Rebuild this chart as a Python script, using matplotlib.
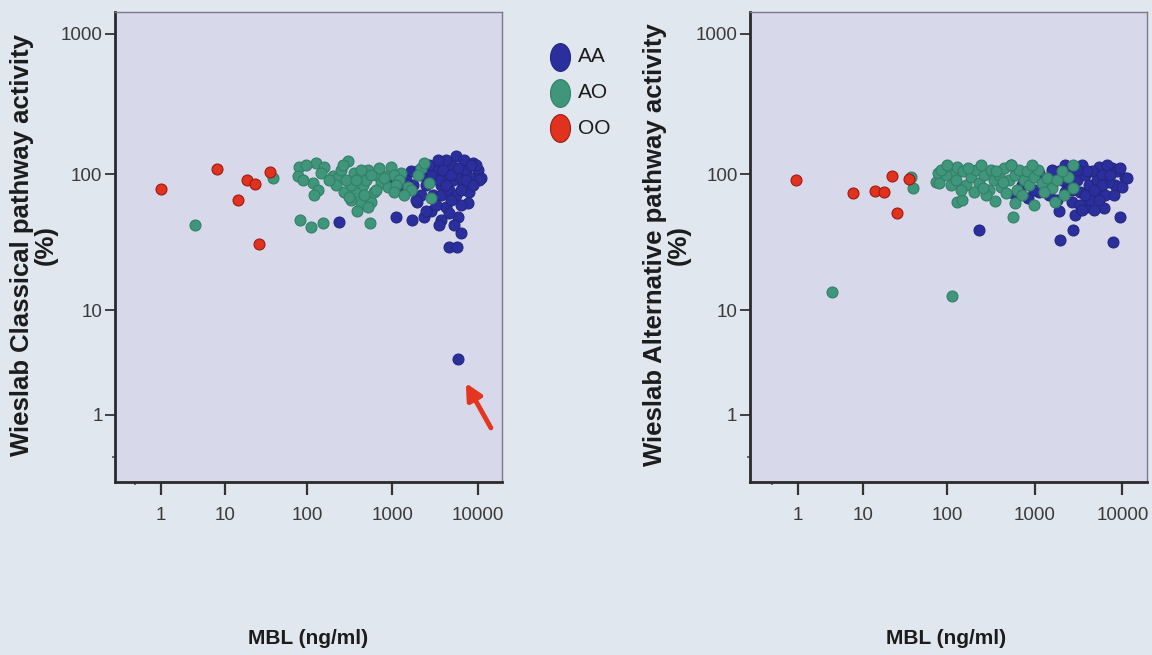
import numpy as np
import matplotlib
matplotlib.use('Agg')
import matplotlib.pyplot as plt
from matplotlib.lines import Line2D

# Classical pathway (left panel): MBL (ng/ml) vs Wieslab activity (%)
cp_oo_mbl = [1.0, 7.9, 14.6, 18.9, 23.6, 26.5, 36]
cp_oo_act = [78, 109, 65.5, 91, 85, 31.4, 104]

cp_ao_mbl = [4.0, 39, 80, 78, 127, 157, 145, 116, 136, 122, 201, 82, 110, 153, 545,
             300, 230, 354, 520, 960, 1256, 2150, 326, 427, 560, 373, 608, 270, 326, 450,
             249, 285, 405, 489, 641, 733, 839, 700, 560, 427, 1040, 1190, 1540, 1644, 2340,
             2650, 2820, 373, 470, 310, 218, 180, 97, 89, 880, 1099, 390, 520, 795, 262,
             641, 1040, 1990, 1360]
cp_ao_act = [43, 94, 113, 97, 121, 113, 102, 87, 77, 71, 97, 47, 41.7, 44.5, 44.5,
             125, 95, 103, 107, 113, 103, 112, 65.5, 62, 63, 75, 75, 75, 84, 84,
             107, 91, 95, 91, 99, 87, 97, 111, 99, 107, 99, 91, 81, 77, 121,
             87, 68, 91, 71, 69, 84, 91, 117, 91, 81, 84, 55, 58, 95, 117,
             77, 75, 99, 71]

cp_aa_mbl = [5830, 237, 1099, 1700, 2340, 1940, 2820, 5830, 6320, 4560, 5680, 7620, 7820,
             5530, 8730, 10000, 10840, 1010, 1330, 1644, 2030, 4220, 3690, 4220, 4830,
             4220, 5100, 6000, 6640, 7230, 8280, 9470, 3230, 3520, 2820, 2465, 2155, 2990,
             3690, 4560, 5530, 6320, 4830, 3230, 2465, 3690, 4560, 6900, 5530, 4220, 8280,
             10300, 1438, 1750, 1256, 2155, 2650, 3400, 3950, 6320, 7230, 8730, 4830, 5830,
             1882, 839, 5300, 3520]
cp_aa_act = [3.95, 45.5, 49, 47, 49, 63, 55, 49, 38, 30, 30, 62, 75,
             136, 121, 107, 95, 87, 75, 105, 107, 58, 84, 99, 117,
             127, 91, 105, 84, 107, 95, 117, 107, 91, 99, 84, 71, 71,
             71, 77, 71, 60, 65.5, 60, 55, 47, 53, 127, 99, 84, 117,
             91, 91, 84, 84, 99, 117, 127, 107, 77, 91, 84, 99, 111,
             65.5, 91, 43, 43]

# Alternative pathway (right panel)
ap_oo_mbl = [0.9, 7.5, 14.3, 17.9, 22.9, 35.6, 25.6]
ap_oo_act = [91, 74, 76, 75, 97, 93, 53]

ap_ao_mbl = [3.9, 113, 37.6, 39.5, 74, 78, 80, 114, 130, 130, 149, 352, 590, 570, 975,
             1700, 2430, 2770, 2770, 96, 110, 126, 151, 164, 188, 214, 230, 260, 300, 319,
             342, 390, 417, 450, 510, 590, 620, 670, 750, 808, 870, 990, 1100, 1200, 1373,
             1567, 1789, 144, 200, 280, 476, 708, 84, 100, 245, 365, 543, 923, 255, 440,
             1280, 2042, 2140, 175]
ap_ao_act = [13.8, 12.9, 96, 80, 88, 103, 87, 103, 113, 63.5, 65.5, 64.5, 62, 49.5, 60,
             63, 96, 117, 80, 99, 84, 91, 105, 84, 96, 107, 87, 99, 77, 107,
             91, 99, 81, 111, 91, 99, 77, 107, 91, 105, 84, 96, 107, 87, 94,
             80, 91, 77, 75, 71, 73, 71, 107, 117, 117, 105, 117, 117, 80, 88,
             75, 105, 71, 111]

ap_aa_mbl = [230, 1920, 2770, 7900, 543, 1120, 590, 840, 1120, 1470, 1880, 1880, 2660,
             2850, 3956, 6200, 9400, 10600, 8300, 7665, 5420, 2330, 2520, 3037, 3250, 3466,
             3720, 4170, 4516, 4880, 5155, 5570, 5883, 6350, 6716, 7100, 8750, 10000, 11400,
             4330, 3250, 2230, 2042, 1567, 1373, 975, 708, 4700, 5420, 3720, 2660, 8000,
             9500, 2230, 3956, 3037, 5883, 4700, 1789, 3466, 7300, 670]
ap_aa_act = [39.7, 33.6, 40, 32.6, 117, 103, 71, 68, 75, 71, 105, 54.5, 63.5,
             51, 58, 57, 49.5, 94, 84, 111, 113, 84, 107, 91, 75, 117,
             99, 84, 105, 71, 91, 80, 99, 71, 117, 88, 105, 81, 94,
             65.5, 60, 75, 91, 107, 84, 77, 84, 55.5, 65.5, 71, 77, 71,
             111, 117, 105, 107, 84, 77, 65.5, 55.5, 99, 77]

groups = ['AA', 'AO', 'OO']
face = {'AA': '#2b2f9e', 'AO': '#3f967a', 'OO': '#e0321f'}
edge = {'AA': '#23277f', 'AO': '#347f67', 'OO': '#9c1c10'}

page_bg = '#e1e7ee'
plot_bg = '#d7d8ea'


def fwd(v):
    return np.log10(np.asarray(v, dtype=float) + 1)


def inv(u):
    return 10 ** np.asarray(u, dtype=float) - 1


W, H = 1152, 655
fig = plt.figure(figsize=(W / 100, H / 100), dpi=100, facecolor=page_bg)

ax1 = fig.add_axes([115 / W, 1 - 482 / H, 387 / W, 470 / H])
ax2 = fig.add_axes([750 / W, 1 - 482 / H, 397 / W, 470 / H])

panels = [
    (ax1, {'AA': (cp_aa_mbl, cp_aa_act), 'AO': (cp_ao_mbl, cp_ao_act), 'OO': (cp_oo_mbl, cp_oo_act)},
     (-0.2395, 4.282)),
    (ax2, {'AA': (ap_aa_mbl, ap_aa_act), 'AO': (ap_ao_mbl, ap_ao_act), 'OO': (ap_oo_mbl, ap_oo_act)},
     (-0.246, 4.281)),
]

for ax, data, xl in panels:
    ax.set_facecolor(plot_bg)
    ax.set_xscale('function', functions=(fwd, inv))
    ax.set_yscale('function', functions=(fwd, inv))
    for g in groups:
        x, y = data[g]
        ax.scatter(x, y, s=62, c=face[g], edgecolors=edge[g], linewidths=0.8, zorder=3)
    ax.set_xlim(inv(xl[0]), inv(xl[1]))
    ax.set_ylim(inv(-0.177), inv(3.156))

    ax.set_xticks([1, 10, 100, 1000, 10000])
    ax.set_xticklabels(['1', '10', '100', '1000', '10000'])
    ax.set_yticks([1, 10, 100, 1000])
    ax.set_yticklabels(['1', '10', '100', '1000'])
    ax.set_xticks([0], minor=True)
    ax.set_yticks([0], minor=True)
    ax.tick_params(axis='x', which='major', length=9, width=1.6, pad=9, color='#333333')
    ax.tick_params(axis='y', which='major', length=7, width=1.3, pad=2, color='#333333')
    ax.tick_params(which='minor', length=2.5, width=1.2, color='#555555')
    for lab in ax.get_xticklabels() + ax.get_yticklabels():
        lab.set_family('Liberation Sans')
        lab.set_fontsize(13.5)
        lab.set_color('#3a3a3a')

    for side in ['left', 'bottom']:
        ax.spines[side].set_linewidth(2.0)
        ax.spines[side].set_color('#2a2a2a')
    for side in ['top', 'right']:
        ax.spines[side].set_linewidth(1.0)
        ax.spines[side].set_color('#7a7a88')

# arrow pointing at the low classical-pathway value
ax1.annotate('', xy=(7230, 2.35), xytext=(14200, 0.61),
             arrowprops=dict(arrowstyle='-|>', color='#e3361f', lw=3.5,
                             mutation_scale=24, shrinkA=0, shrinkB=0))

label_font = dict(family='Liberation Sans', weight='bold', color='#1c1c1c')
fig.text(34 / W, 1 - 245 / H, 'Wieslab Classical pathway activity\n(%)',
         rotation=90, ha='center', va='center', multialignment='center',
         fontsize=18.5, linespacing=0.95, **label_font)
fig.text(667 / W, 1 - 245 / H, 'Wieslab Alternative pathway activity\n(%)',
         rotation=90, ha='center', va='center', multialignment='center',
         fontsize=18.5, linespacing=0.95, **label_font)
fig.text(308 / W, 1 - 639 / H, 'MBL (ng/ml)', ha='center', va='center',
         fontsize=15, **label_font)
fig.text(946 / W, 1 - 639 / H, 'MBL (ng/ml)', ha='center', va='center',
         fontsize=15, **label_font)

# genotype key, tall oval markers
t = np.linspace(0, 2 * np.pi, 48)
oval = np.column_stack([0.72 * np.cos(t), np.sin(t)])
for i, g in enumerate(groups):
    yy = 1 - (57 + 35.5 * i) / H
    fig.add_artist(Line2D([560 / W], [yy], marker=oval, markersize=20, linestyle='none',
                          markerfacecolor=face[g], markeredgecolor=edge[g],
                          markeredgewidth=0.8, transform=fig.transFigure))
    fig.text(578 / W, yy, g, ha='left', va='center', fontsize=15,
             family='Liberation Sans', color='#1c1c1c')

fig.savefig('out.png', dpi=100, facecolor=page_bg)
